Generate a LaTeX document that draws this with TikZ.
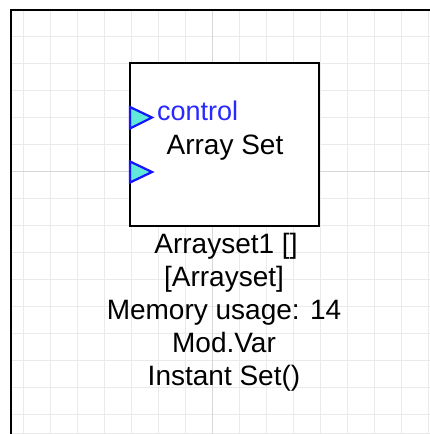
\documentclass[tikz,border=0pt]{standalone}
\usepackage{fontspec}
\setmainfont{Liberation Sans}
\usepackage{xcolor}
\definecolor{gridgray}{RGB}{234,234,234}
\definecolor{majorgray}{RGB}{214,214,214}
\definecolor{portblue}{RGB}{20,20,255}
\definecolor{portfill}{RGB}{96,232,218}
\definecolor{ctrlblue}{RGB}{40,40,255}

\begin{document}
\begin{tikzpicture}[x=1pt,y=-1pt,
  block/.style={draw,line width=2.4pt,minimum width=189pt,minimum height=163pt,inner sep=0pt,fill=white},
  port/.style={draw=portblue,fill=portfill,line width=2.2pt,line join=miter},
  lbl/.style={anchor=base,inner sep=0pt,font=\fontsize{28}{33}\selectfont}]
\useasboundingbox (0,0) rectangle (430,434);
\fill[white] (0,0) rectangle (430,434);
% grid
\foreach \gx in {23.5,50.5,...,430} \draw[gridgray,line width=1pt] (\gx,11) -- (\gx,434);
\foreach \gy in {36.5,63.5,...,434} \draw[gridgray,line width=1pt] (11,\gy) -- (430,\gy);
\draw[gridgray,line width=1pt] (11,433) -- (430,433);
\draw[majorgray,line width=1.2pt] (212.5,11) -- (212.5,434);
\draw[majorgray,line width=1.2pt] (11,171.5) -- (430,171.5);
\draw[line width=2pt] (11,434) -- (11,10) -- (430,10);
% block
\node[block] (arrset) at (224.7,144.2) {};
\draw[port] (130,107) -- (152,117.5) -- (130,128.5) -- cycle;
\draw[port] (130,161.5) -- (152,172) -- (130,182.5) -- cycle;
\node[anchor=base west,inner sep=0pt,text=ctrlblue,font=\fontsize{27}{27}\selectfont] (ctrl) at (157,120.5) {control};
\node[lbl] (title) at (225,154) {Array Set};
% labels below
\node[lbl] (name) at (226,253) {Arrayset1 []};
\node[lbl] (kind) at (224,286) {[Arrayset]};
\node[lbl] (mem) at (224,319) {Memory usage: 14};
\node[lbl] (mod) at (224,352) {Mod.Var};
\node[lbl] (inst) at (224,385) {Instant Set()};
\end{tikzpicture}
\end{document}
